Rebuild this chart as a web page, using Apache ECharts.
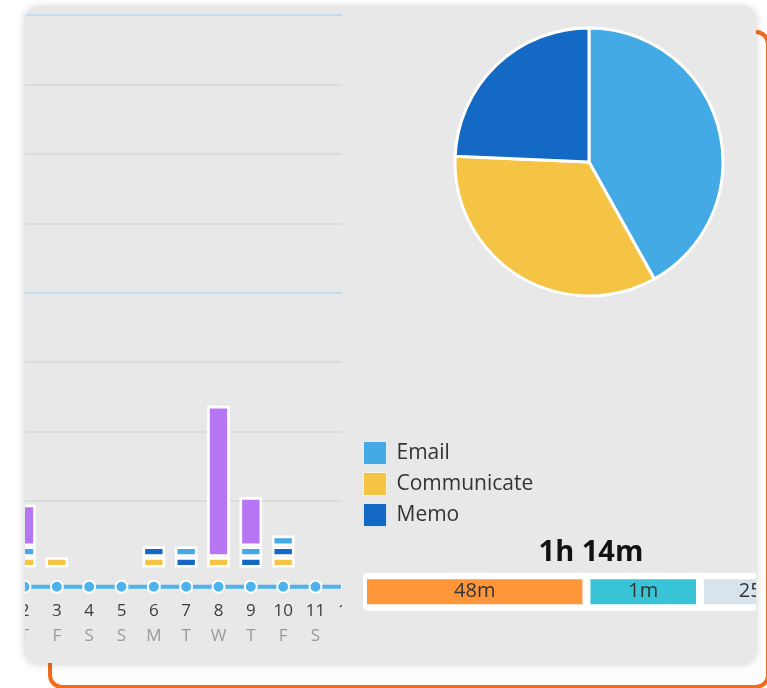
<!DOCTYPE html>
<html>
<head>
<meta charset="utf-8">
<script src="https://cdn.jsdelivr.net/npm/echarts/dist/echarts.min.js"></script>
<style>
  html, body { margin: 0; padding: 0; background: #fff; width: 767px; height: 688px; overflow: hidden; }
  #frame { position: absolute; left: 48px; top: 30px; width: 722px; height: 659px; box-sizing: border-box;
           border: 4px solid #f26a1b; border-radius: 14px; }
  #panel { position: absolute; left: 25px; top: 6px; width: 731px; height: 657px; background: #e8e8e8;
           border-radius: 14px; box-shadow: 0 1px 9px rgba(0,0,0,0.2); overflow: hidden; }
  #clip { position: absolute; left: 0; top: 0; width: 317px; height: 657px; overflow: hidden; }
  #trend { position: absolute; left: -49px; top: -6px; width: 388px; height: 688px; }
  #summary { position: absolute; left: 317px; top: -6px; width: 480px; height: 688px; }
</style>
</head>
<body>
<div id="frame"></div>
<div id="panel">
  <div id="clip"><div id="trend"></div></div>
  <div id="summary"></div>
</div>
<script>
// ---- daily activity (hours) ----
var days = [1, 2, 3, 4, 5, 6, 7, 8, 9, 10, 11, 12];
var weekdays = ['W', 'T', 'F', 'S', 'S', 'M', 'T', 'W', 'T', 'F', 'S', 'S'];
var communicate = [0, 0.155, 0.155, 0, 0, 0.155, 0, 0.155, 0, 0.155, 0, 0];
var memo = [0, 0, 0, 0, 0, 0.155, 0.155, 0, 0.155, 0.155, 0, 0];
var email = [0, 0.155, 0, 0, 0, 0, 0.155, 0, 0.155, 0.155, 0, 0];
var other = [0, 0.60, 0, 0, 0, 0, 0, 2.18, 0.71, 0, 0, 0];
var tracked = [1, 1, 1, 1, 1, 1, 1, 1, 1, 1, 1, 1];

// ---- pie (minutes) ----
var pieNames = ['Email', 'Communicate', 'Memo'];
var pieValues = [31, 25, 18];

// ---- time split bar ----
var splitMinutes = [48, 1, 25];
var splitShare = [0.49, 0.249, 0.261];

var FONT = '"Open Sans", sans-serif';
var segColors = ['#f5c444', '#1467c4', '#43aae6', '#b676f4'];
var pieColors = ['#43aae6', '#f5c444', '#1469c4'];
var splitColors = ['#fd9638', '#38c4d6', '#d7e3ed'];

//*************TREND CHART******************
var stacks = [communicate, memo, email, other];
var segData = [];
days.forEach(function (d, i) {
  var base = 0;
  stacks.forEach(function (arr, k) {
    if (arr[i] > 0) {
      segData.push([i, base, base + arr[i], k]);
      base += arr[i];
    }
  });
});

function drawSegment(params, api) {
  var top = api.coord([api.value(0), api.value(2)]);
  var bottom = api.coord([api.value(0), api.value(1)]);
  var w = 20;
  return {
    type: 'rect',
    shape: { x: top[0] - w / 2, y: top[1] - 1.2, width: w, height: bottom[1] - top[1] - 3 },
    style: { fill: segColors[api.value(3)], stroke: '#fff', lineWidth: 2.6 }
  };
}

var gridColors = ['rgba(0,0,0,0)', '#d8d8d8', '#d8d8d8', '#d8d8d8', '#b6dbee', '#d8d8d8', '#d8d8d8', '#d8d8d8', '#b6dbee'];

var trendChart = echarts.init(document.getElementById('trend'));
trendChart.setOption({
  animation: false,
  textStyle: { fontFamily: FONT },
  grid: [
    { left: 0, right: 0, top: 15, bottom: 117.6 },
    { left: 0, right: 0, top: 580, height: 13.4 }
  ],
  xAxis: [
    { gridIndex: 0, type: 'category', data: days, show: false },
    {
      gridIndex: 1, type: 'category', data: days,
      axisLine: { show: false }, axisTick: { show: false },
      axisLabel: {
        interval: 0, margin: 5,
        formatter: function (v, i) { return '{n|' + v + '}\n{w|' + weekdays[i] + '}'; },
        rich: {
          n: { fontSize: 17, lineHeight: 25, color: '#3c3c3c', fontFamily: FONT },
          w: { fontSize: 17, lineHeight: 25, color: '#9a9a9a', fontFamily: FONT }
        }
      }
    }
  ],
  yAxis: [
    {
      gridIndex: 0, type: 'value', min: 0, max: 8, interval: 1,
      axisLabel: { show: false }, axisLine: { show: false }, axisTick: { show: false },
      splitLine: { lineStyle: { color: gridColors, width: 1.5 } }
    },
    { gridIndex: 1, type: 'value', min: 0, max: 2, show: false, splitLine: { show: false } }
  ],
  series: [
    {
      type: 'custom', xAxisIndex: 0, yAxisIndex: 0,
      renderItem: drawSegment,
      encode: { x: 0, y: [1, 2] },
      data: segData
    },
    {
      type: 'line', xAxisIndex: 1, yAxisIndex: 1,
      data: tracked,
      symbol: 'circle', symbolSize: 12,
      lineStyle: { color: '#4db3ea', width: 4 },
      itemStyle: { color: '#4db3ea', borderColor: '#fff', borderWidth: 2 }
    }
  ]
});

//*************SUMMARY CHART******************
var total = splitMinutes.reduce(function (a, b) { return a + b; }, 0);
var totalLabel = Math.floor(total / 60) + 'h ' + (total % 60) + 'm';

var splitSeries = splitMinutes.map(function (m, i) {
  return {
    name: 'split' + i, type: 'bar', stack: 'time', xAxisIndex: 0, yAxisIndex: 0,
    barWidth: 33, z: 3,
    data: [splitShare[i]],
    itemStyle: { color: splitColors[i], borderColor: '#fff', borderWidth: 4 },
    label: { show: true, position: 'inside', formatter: m + 'm', color: '#333', fontSize: 20, fontFamily: FONT }
  };
});

var summaryChart = echarts.init(document.getElementById('summary'));
summaryChart.setOption({
  animation: false,
  textStyle: { fontFamily: FONT },
  legend: {
    data: pieNames, orient: 'vertical', left: 21, top: 441, padding: 0,
    icon: 'rect', itemWidth: 23, itemHeight: 23, itemGap: 7,
    itemStyle: { borderWidth: 1, borderColor: 'rgba(255,255,255,0.7)' },
    textStyle: { fontSize: 21, lineHeight: 23, color: '#333', fontFamily: FONT, padding: [0, 0, 0, 5] }
  },
  graphic: [{
    type: 'text', x: 249, y: 553,
    style: { text: totalLabel, textAlign: 'center', textVerticalAlign: 'middle',
             font: 'bold 29px ' + FONT, fill: '#111' }
  }],
  grid: [{ left: 21, top: 571.7, width: 456, height: 40 }],
  xAxis: [{ type: 'value', min: 0, max: 1, show: false }],
  yAxis: [
    { type: 'category', data: ['split'], show: false },
    { type: 'category', data: ['track'], show: false }
  ],
  series: [
    {
      type: 'pie', center: [247, 162], radius: 134,
      startAngle: 90, clockwise: true,
      label: { show: false }, labelLine: { show: false },
      emphasis: { disabled: true },
      itemStyle: { borderColor: '#fff', borderWidth: 3 },
      data: pieNames.map(function (n, i) {
        return { name: n, value: pieValues[i], itemStyle: { color: pieColors[i] } };
      })
    },
    {
      name: 'track', type: 'bar', xAxisIndex: 0, yAxisIndex: 1,
      barWidth: 38, z: 1,
      data: [splitShare.reduce(function (a, b) { return a + b; }, 0)],
      itemStyle: { color: '#fff', borderColor: '#fff', borderWidth: 2, borderRadius: 4 }
    }
  ].concat(splitSeries)
});
</script>
</body>
</html>
